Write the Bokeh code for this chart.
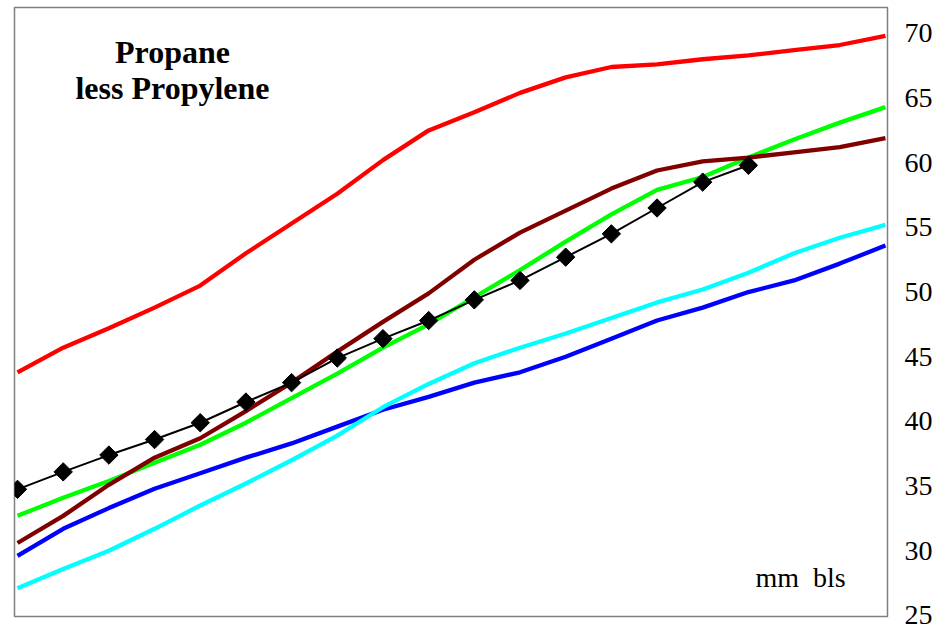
from bokeh.plotting import figure
from bokeh.models import LinearAxis, FixedTicker, Range1d, Label, ColumnDataSource
from bokeh.embed import file_html
from bokeh.resources import INLINE
import math

# ---- data ----
idx = list(range(20))
red = [43.8, 45.7, 47.2, 48.8, 50.5, 53.0, 55.3, 57.6, 60.2, 62.5,
       63.9, 65.4, 66.6, 67.4, 67.6, 68.0, 68.3, 68.7, 69.1, 69.8]
green = [32.7, 34.1, 35.4, 36.8, 38.2, 39.9, 41.8, 43.7, 45.7, 47.5,
         49.6, 51.7, 53.9, 56.0, 57.9, 58.9, 60.4, 61.8, 63.1, 64.3]
darkred = [30.6, 32.7, 35.1, 37.2, 38.7, 40.8, 43.0, 45.4, 47.7, 49.9,
           52.5, 54.6, 56.3, 58.0, 59.4, 60.1, 60.4, 60.8, 61.2, 61.9]
cyan = [27.1, 28.6, 30.0, 31.7, 33.5, 35.2, 37.0, 38.9, 41.1, 42.9,
        44.5, 45.7, 46.8, 48.0, 49.2, 50.2, 51.5, 53.0, 54.2, 55.2]
blue = [29.6, 31.7, 33.3, 34.8, 36.0, 37.2, 38.3, 39.6, 40.9, 41.9,
        43.0, 43.8, 45.0, 46.4, 47.8, 48.8, 50.0, 50.9, 52.2, 53.6]
black_idx = list(range(17))
black = [34.75, 36.1, 37.4, 38.6, 39.9, 41.5, 43.0, 44.9, 46.4, 47.8,
         49.4, 50.9, 52.7, 54.5, 56.5, 58.5, 59.8]
y_ticks = [25, 30, 35, 40, 45, 50, 55, 60, 65, 70]
title_lines = ["Propane", "less Propylene"]
unit_text = "mm\u00a0\u00a0bls"

SERIF = "Liberation Serif"

p = figure(frame_width=873, frame_height=609, output_backend="svg",
           toolbar_location=None, x_range=Range1d(-0.066, 19.045),
           y_range=Range1d(24.92, 72.0), y_axis_location=None,
           x_axis_location=None, min_border_left=14, min_border_top=7,
           min_border_bottom=13, min_border_right=4)
p.grid.visible = False
p.outline_line_color = "#808080"
p.outline_line_width = 1.5
p.background_fill_color = "white"
p.border_fill_color = "white"

ax = LinearAxis(ticker=FixedTicker(ticks=y_ticks))
ax.axis_line_color = None
ax.major_tick_line_color = None
ax.minor_tick_line_color = None
ax.major_tick_out = 0
ax.major_tick_in = 0
ax.major_label_standoff = 17
ax.major_label_text_font = SERIF
ax.major_label_text_font_size = "28px"
ax.major_label_text_color = "black"
p.add_layout(ax, "right")

lw = 4.3
p.line(idx, blue, line_color="#0000FF", line_width=lw)
p.line(idx, cyan, line_color="#00FFFF", line_width=lw)
p.line(idx, green, line_color="#00FF00", line_width=lw)
p.line(idx, darkred, line_color="#800000", line_width=lw)
p.line(idx, red, line_color="#FF0000", line_width=lw)
src = ColumnDataSource(dict(x=black_idx, y=black))
p.line("x", "y", source=src, line_color="black", line_width=2)
p.scatter("x", "y", source=src, marker="square", size=13, angle=math.pi / 4,
          fill_color="black", line_color="black")

p.add_layout(Label(x=158, y=565, x_units="screen", y_units="screen",
                   text=title_lines[0], text_font=SERIF, text_font_size="32px",
                   text_font_style="bold", text_align="center",
                   text_baseline="middle", text_color="black"))
p.add_layout(Label(x=158, y=529, x_units="screen", y_units="screen",
                   text=title_lines[1], text_font=SERIF, text_font_size="32px",
                   text_font_style="bold", text_align="center",
                   text_baseline="middle", text_color="black"))
p.add_layout(Label(x=786, y=39, x_units="screen", y_units="screen",
                   text=unit_text, text_font=SERIF, text_font_size="28px",
                   text_align="center", text_baseline="middle",
                   text_color="black"))

open("out.html", "w").write(file_html(p, INLINE))
